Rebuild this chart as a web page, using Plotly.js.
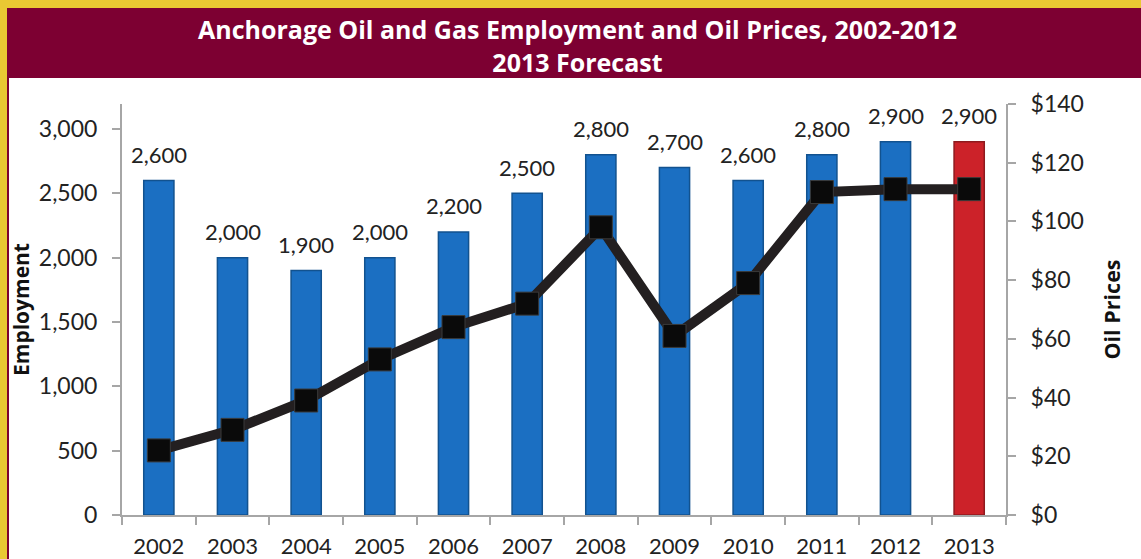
<!DOCTYPE html>
<html>
<head>
<meta charset="utf-8">
<script src="https://cdn.plot.ly/plotly-3.0.1.min.js"></script>
<style>html,body{margin:0;padding:0;background:#fff;}#chart{width:1141px;height:559px;}</style>
</head>
<body>
<div id="chart"></div>
<script>
const years = ['2002','2003','2004','2005','2006','2007','2008','2009','2010','2011','2012','2013'];
const employment = [2600, 2000, 1900, 2000, 2200, 2500, 2800, 2700, 2600, 2800, 2900, 2900];
const oilPrices = [22, 29, 39, 53, 64, 72, 98, 61, 79, 110, 111, 111];
const barColors = ['#1b6fc2','#1b6fc2','#1b6fc2','#1b6fc2','#1b6fc2','#1b6fc2','#1b6fc2','#1b6fc2','#1b6fc2','#1b6fc2','#1b6fc2','#cc2229'];
const barEdges = ['#12528f','#12528f','#12528f','#12528f','#12528f','#12528f','#12528f','#12528f','#12528f','#12528f','#12528f','#8e1a1e'];
const titleLines = ['Anchorage Oil and Gas Employment and Oil Prices, 2002-2012', '2013 Forecast'];

const W = 1141, H = 559;
const M = {l: 122, r: 135, t: 104, b: 44};
const pw = W - M.l - M.r, ph = H - M.t - M.b;
const px = x => (x - M.l) / pw;
const py = y => (H - M.b - y) / ph;

const font = 'Lato, "Open Sans", sans-serif';
const boldFont = '"Open Sans", Lato, sans-serif';

const barTrace = {
  type: 'bar', x: years, y: employment, yaxis: 'y',
  marker: {color: barColors, line: {color: barEdges, width: 1.5}},
  width: 0.41, hoverinfo: 'x+y', showlegend: false
};
const lineTrace = {
  type: 'scatter', mode: 'lines+markers', x: years, y: oilPrices, yaxis: 'y2',
  line: {color: '#231f20', width: 10},
  marker: {symbol: 'square', size: 23, color: '#0a0a0a', line: {color: '#3a3a3a', width: 1}},
  showlegend: false
};

const annotations = years.map((yr, i) => ({
  x: i, y: employment[i], xref: 'x', yref: 'y', yshift: 26,
  text: employment[i].toLocaleString('en-US'), showarrow: false,
  font: {family: font, size: 22, color: '#222'}, yanchor: 'middle'
}));
annotations.push({
  xref: 'paper', yref: 'paper', x: px(577), y: py(45), xanchor: 'center', yanchor: 'middle',
  text: '<b>' + titleLines[0] + '</b><br><b>' + titleLines[1] + '</b>', showarrow: false,
  font: {family: boldFont, size: 25, color: '#ffffff'}
});

const shapes = [
  {type: 'rect', xref: 'paper', yref: 'paper', x0: px(0), x1: px(W), y0: py(0), y1: py(8), fillcolor: '#e9c833', line: {width: 0}, layer: 'below'},
  {type: 'rect', xref: 'paper', yref: 'paper', x0: px(0), x1: px(7), y0: py(0), y1: py(H), fillcolor: '#e9c833', line: {width: 0}, layer: 'below'},
  {type: 'rect', xref: 'paper', yref: 'paper', x0: px(7), x1: px(W), y0: py(8), y1: py(78), fillcolor: '#7d0032', line: {width: 0}, layer: 'below'},
  {type: 'rect', xref: 'paper', yref: 'paper', x0: px(7), x1: px(9), y0: py(78), y1: py(H), fillcolor: '#7d0032', line: {width: 0}, layer: 'below'}
];

const layout = {
  width: W, height: H,
  margin: M,
  paper_bgcolor: '#ffffff', plot_bgcolor: '#ffffff',
  font: {family: font, size: 20, color: '#222'},
  xaxis: {
    type: 'category', range: [-0.5, years.length - 0.5], autorange: false,
    tickson: 'boundaries', ticks: 'outside', ticklen: 8, tickcolor: '#a6a6a6', tickwidth: 2,
    showline: true, linecolor: '#a6a6a6', linewidth: 2, showgrid: false, zeroline: false,
    tickfont: {family: font, size: 22, color: '#222'}, ticklabelstandoff: 11
  },
  yaxis: {
    range: [0, 3194], autorange: false, dtick: 500, tickformat: ',', ticks: 'outside', ticklen: 8, tickcolor: '#a6a6a6', tickwidth: 2,
    showline: true, linecolor: '#a6a6a6', linewidth: 2, showgrid: false, zeroline: false,
    tickfont: {family: font, size: 23, color: '#222'}, ticklabelstandoff: 10,
    title: {text: '<b>Employment</b>', font: {family: boldFont, size: 21, color: '#111'}, standoff: 3}
  },
  yaxis2: {
    overlaying: 'y', side: 'right', range: [0, 140], autorange: false, dtick: 20, tickprefix: '$',
    ticks: 'outside', ticklen: 8, tickcolor: '#a6a6a6', tickwidth: 2,
    showline: true, linecolor: '#a6a6a6', linewidth: 2, showgrid: false, zeroline: false,
    tickfont: {family: font, size: 23, color: '#222'}, ticklabelstandoff: 10,
    title: {text: '<b>Oil Prices</b>', font: {family: boldFont, size: 21.5, color: '#111'}, standoff: 22}
  },
  annotations: annotations,
  shapes: shapes
};

Plotly.newPlot('chart', [barTrace, lineTrace], layout, {displayModeBar: false, staticPlot: true});
</script>
</body>
</html>
